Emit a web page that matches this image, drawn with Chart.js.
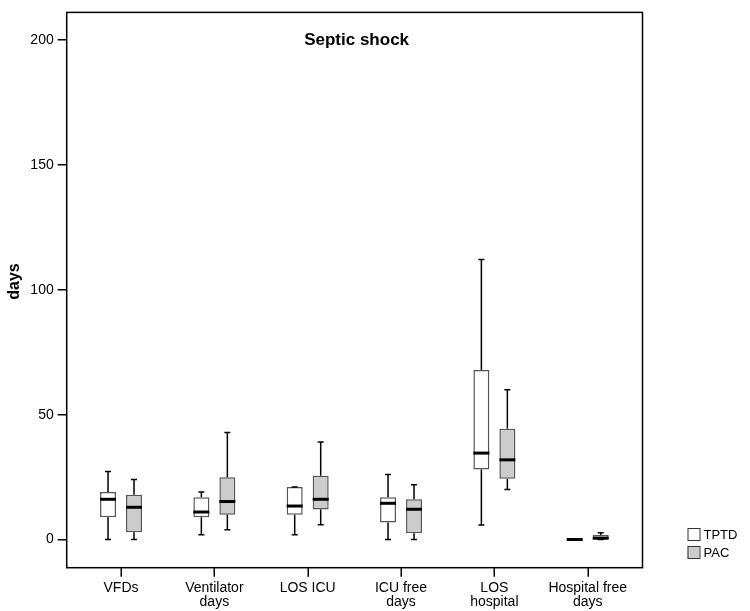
<!DOCTYPE html>
<html>
<head>
<meta charset="utf-8">
<script src="https://cdn.jsdelivr.net/npm/chart.js@4/dist/chart.umd.min.js"></script>
<style>
  html, body { margin: 0; padding: 0; background: #ffffff; }
  #wrap { width: 750px; height: 611px; }
</style>
</head>
<body>
<div id="wrap"><canvas id="c" width="750" height="611"></canvas></div>
<script>
// ---- data ----
const chartTitle = "Septic shock";
const yTitle = "days";
const categories = ["VFDs", ["Ventilator", "days"], "LOS ICU", ["ICU free", "days"], ["LOS", "hospital"], ["Hospital free", "days"]];
const seriesNames = ["TPTD", "PAC"];

const tptdMin = [0, 1.9, 1.9, 0, 5.8, 0];
const tptdQ1  = [8.9, 8.9, 9.9, 6.8, 28.0, 0];
const tptdMed = [16.1, 11.0, 13.4, 14.5, 34.6, 0];
const tptdQ3  = [19.0, 16.9, 21.0, 16.9, 67.9, 0];
const tptdMax = [27.2, 19.0, 21.0, 26.0, 112.1, 0];

const pacMin = [0, 3.9, 5.9, 0, 20.0, 0];
const pacQ1  = [2.9, 9.9, 12.0, 2.5, 24.3, 0];
const pacMed = [12.9, 15.2, 16.1, 12.1, 31.9, 0.5];
const pacQ3  = [17.9, 24.9, 25.5, 16.1, 44.4, 1.8];
const pacMax = [24.0, 42.8, 39.0, 21.9, 60.0, 2.7];

const yTicks = [0, 50, 100, 150, 200];
const yMin = -11.3, yMax = 211.1;
const xMin = -0.582, xMax = 5.587;

// ---- build datasets ----
function boxData(q1, q3) { return categories.map((c, i) => ({ x: i, y: [q1[i], q3[i]] })); }
const stats = [
  { min: tptdMin, med: tptdMed, max: tptdMax },
  { min: pacMin, med: pacMed, max: pacMax }
];

const FONT = "'Liberation Sans', Arial, sans-serif";

const boxPlugin = {
  id: 'boxWhiskers',
  afterDatasetsDraw(chart) {
    const ctx = chart.ctx, ys = chart.scales.y;
    chart.data.datasets.forEach((ds, di) => {
      const meta = chart.getDatasetMeta(di);
      const s = stats[di];
      meta.data.forEach((bar, i) => {
        const p = bar.getProps(['x', 'width'], true);
        const x = p.x, w = p.width;
        const q1 = ds.data[i].y[0], q3 = ds.data[i].y[1];
        const pq1 = ys.getPixelForValue(q1), pq3 = ys.getPixelForValue(q3);
        const pmin = ys.getPixelForValue(s.min[i]), pmax = ys.getPixelForValue(s.max[i]);
        const pmed = ys.getPixelForValue(s.med[i]);
        ctx.save();
        ctx.strokeStyle = '#000';
        ctx.lineWidth = 1.5;
        ctx.beginPath();
        if (pmax < pq3) { ctx.moveTo(x, pq3); ctx.lineTo(x, pmax); }
        if (pmin > pq1) { ctx.moveTo(x, pq1); ctx.lineTo(x, pmin); }
        ctx.stroke();
        ctx.beginPath();
        if (s.max[i] > s.min[i]) {
          ctx.moveTo(x - 3, pmax); ctx.lineTo(x + 3, pmax);
          ctx.moveTo(x - 3, pmin); ctx.lineTo(x + 3, pmin);
        }
        ctx.stroke();
        ctx.lineWidth = 3;
        ctx.beginPath();
        ctx.moveTo(x - w / 2, pmed); ctx.lineTo(x + w / 2, pmed);
        ctx.stroke();
        ctx.restore();
      });
    });
  },
  afterDraw(chart) {
    const ctx = chart.ctx, a = chart.chartArea, xs = chart.scales.x;
    ctx.save();
    // frame
    ctx.strokeStyle = '#000';
    ctx.lineWidth = 1.5;
    ctx.strokeRect(a.left, a.top, a.right - a.left, a.bottom - a.top);
    // x tick marks
    ctx.beginPath();
    categories.forEach((c, i) => {
      const px = Math.round(xs.getPixelForValue(i)) + 0.25;
      ctx.moveTo(px, a.bottom);
      ctx.lineTo(px, a.bottom + 9);
    });
    ctx.stroke();
    // title inside plot
    ctx.fillStyle = '#000';
    ctx.font = "bold 17px " + FONT;
    ctx.textAlign = 'center';
    ctx.textBaseline = 'alphabetic';
    ctx.fillText(chartTitle, (a.left + a.right) / 2 + 2, a.top + 33);
    // y axis title
    ctx.save();
    ctx.translate(19, 281.5);
    ctx.rotate(-Math.PI / 2);
    ctx.font = "bold 16px " + FONT;
    ctx.textAlign = 'center';
    ctx.textBaseline = 'alphabetic';
    ctx.fillText(yTitle, 0, 0);
    ctx.restore();
    // legend
    ctx.font = "13px " + FONT;
    ctx.textAlign = 'left';
    ctx.textBaseline = 'middle';
    chart.data.datasets.forEach((ds, i) => {
      const bx = a.right + 45, by = 528 + i * 18;
      ctx.fillStyle = ds.backgroundColor;
      ctx.fillRect(bx, by, 12, 12);
      ctx.strokeStyle = '#333';
      ctx.lineWidth = 1;
      ctx.strokeRect(bx + 0.5, by + 0.5, 12, 12);
      ctx.fillStyle = '#000';
      ctx.fillText(ds.label, bx + 16, by + 7);
    });
    ctx.restore();
  }
};

new Chart(document.getElementById('c'), {
  type: 'bar',
  data: {
    datasets: [
      {
        label: seriesNames[0],
        data: boxData(tptdQ1, tptdQ3),
        backgroundColor: '#ffffff',
        borderColor: '#555555',
        borderWidth: 1.5,
        borderSkipped: false
      },
      {
        label: seriesNames[1],
        data: boxData(pacQ1, pacQ3),
        backgroundColor: '#cccccc',
        borderColor: '#555555',
        borderWidth: 1.5,
        borderSkipped: false
      }
    ]
  },
  options: {
    responsive: false,
    animation: false,
    categoryPercentage: 0.557,
    barPercentage: 0.615,
    layout: { padding: { top: 7, right: 107.5, bottom: 0, left: 0 } },
    plugins: {
      legend: { display: false },
      title: { display: false },
      tooltip: { enabled: false }
    },
    scales: {
      x: {
        type: 'linear',
        min: xMin,
        max: xMax,
        offset: false,
        afterBuildTicks(scale) { scale.ticks = categories.map((c, i) => ({ value: i })); },
        afterFit(scale) { scale.height = 43.3; },
        border: { display: false },
        grid: { display: false, drawTicks: false },
        ticks: {
          autoSkip: false,
          maxRotation: 0,
          padding: 13,
          color: '#000',
          font: { family: FONT, size: 14, lineHeight: 1.0 },
          callback: (v) => categories[Math.round(v)]
        }
      },
      y: {
        min: yMin,
        max: yMax,
        afterBuildTicks(scale) { scale.ticks = yTicks.map(v => ({ value: v })); },
        afterFit(scale) { scale.width = 66.7; },
        border: { display: false },
        grid: { display: true, drawOnChartArea: false, drawTicks: true, tickLength: 9, color: '#000', lineWidth: 1.5 },
        ticks: {
          padding: 4,
          color: '#000',
          font: { family: FONT, size: 14 }
        },
        title: { display: false }
      }
    }
  },
  plugins: [boxPlugin]
});
</script>
</body>
</html>
